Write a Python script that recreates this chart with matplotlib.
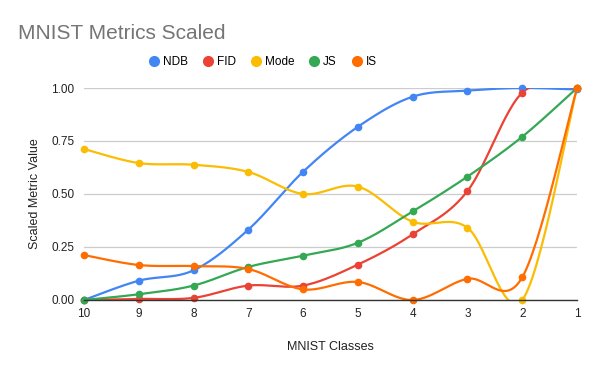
import numpy as np
import matplotlib
matplotlib.use("Agg")
import matplotlib.pyplot as plt
from matplotlib.lines import Line2D

plt.rcParams['font.family'] = ['Liberation Sans', 'DejaVu Sans']

classes = ['10', '9', '8', '7', '6', '5', '4', '3', '2', '1']
ndb = [0.0, 0.091, 0.14, 0.332, 0.605, 0.817, 0.959, 0.988, 1.0, 0.993]
fid = [0.0, 0.005, 0.01, 0.068, 0.068, 0.167, 0.31, 0.514, 0.978, 1.0]
mode = [0.712, 0.646, 0.638, 0.604, 0.5, 0.535, 0.369, 0.341, 0.0, 1.0]
js = [0.0, 0.027, 0.068, 0.156, 0.209, 0.27, 0.418, 0.582, 0.77, 1.0]
is_ = [0.212, 0.165, 0.16, 0.146, 0.05, 0.085, 0.0, 0.1, 0.107, 1.0]

series = [('NDB', ndb, '#4285F4'), ('FID', fid, '#EA4335'),
          ('Mode', mode, '#FBBC04'), ('JS', js, '#34A853'), ('IS', is_, '#FF6D01')]


def smooth(x, y, n=30):
    # catmull-rom style bezier between points, like the sheets "smooth" option
    x = np.asarray(x, float)
    y = np.asarray(y, float)
    px = np.concatenate([[x[0]], x, [x[-1]]])
    py = np.concatenate([[y[0]], y, [y[-1]]])
    xs, ys = [], []
    t = np.linspace(0, 1, n)
    for i in range(len(x) - 1):
        p0 = np.array([px[i + 1], py[i + 1]])
        p3 = np.array([px[i + 2], py[i + 2]])
        c1 = p0 + (p3 - np.array([px[i], py[i]])) / 6
        c2 = p3 - (np.array([px[i + 3], py[i + 3]]) - p0) / 6
        b = (np.outer((1 - t) ** 3, p0) + np.outer(3 * (1 - t) ** 2 * t, c1)
             + np.outer(3 * (1 - t) * t ** 2, c2) + np.outer(t ** 3, p3))
        xs.extend(b[:, 0])
        ys.extend(b[:, 1])
    return np.array(xs), np.array(ys)


fig = plt.figure(figsize=(6, 3.71), dpi=100)
ax = fig.add_axes([0.14, 0.1914, 0.8217, 0.5714])
xi = np.arange(len(classes))
for name, vals, c in series:
    sx, sy = smooth(xi, vals)
    ax.plot(sx, sy, color=c, lw=1.6, solid_capstyle='round', zorder=3)
    ax.plot(xi, vals, 'o', color=c, ms=4.5, zorder=4, clip_on=False)

ax.set_xlim(0, len(classes) - 1)
ax.set_ylim(0, 1)
ax.set_xticks(xi)
ax.set_xticklabels(classes)
ax.set_yticks([0, 0.25, 0.5, 0.75, 1.0])
ax.set_yticklabels(['0.00', '0.25', '0.50', '0.75', '1.00'])
ax.tick_params(length=0, labelsize=8.5, labelcolor='#222222')
ax.tick_params(axis='x', pad=6)
ax.tick_params(axis='y', pad=7)
ax.grid(axis='y', color='#cccccc', lw=0.9)
ax.set_axisbelow(True)
for s in ['top', 'right', 'left']:
    ax.spines[s].set_visible(False)
ax.spines['bottom'].set_color('#333333')
ax.spines['bottom'].set_linewidth(1.0)
ax.spines['bottom'].set_zorder(5)

ax.set_xlabel('MNIST Classes', fontsize=9, color='#222222', labelpad=15)
ax.set_ylabel('Scaled Metric Value', fontsize=9, color='#222222', labelpad=7)

fig.text(0.03, 0.91, 'MNIST Metrics Scaled', fontsize=15, color='#757575',
         va='center', ha='left')

handles = [Line2D([], [], ls='none', marker='o', ms=7, color=c) for _, _, c in series]
fig.legend(handles, [s[0] for s in series], loc='center', bbox_to_anchor=(0.437, 0.833),
           ncol=5, frameon=False, fontsize=8.5, handletextpad=0.25, columnspacing=1.2,
           handlelength=1.0)

fig.savefig('out.png', dpi=100)
